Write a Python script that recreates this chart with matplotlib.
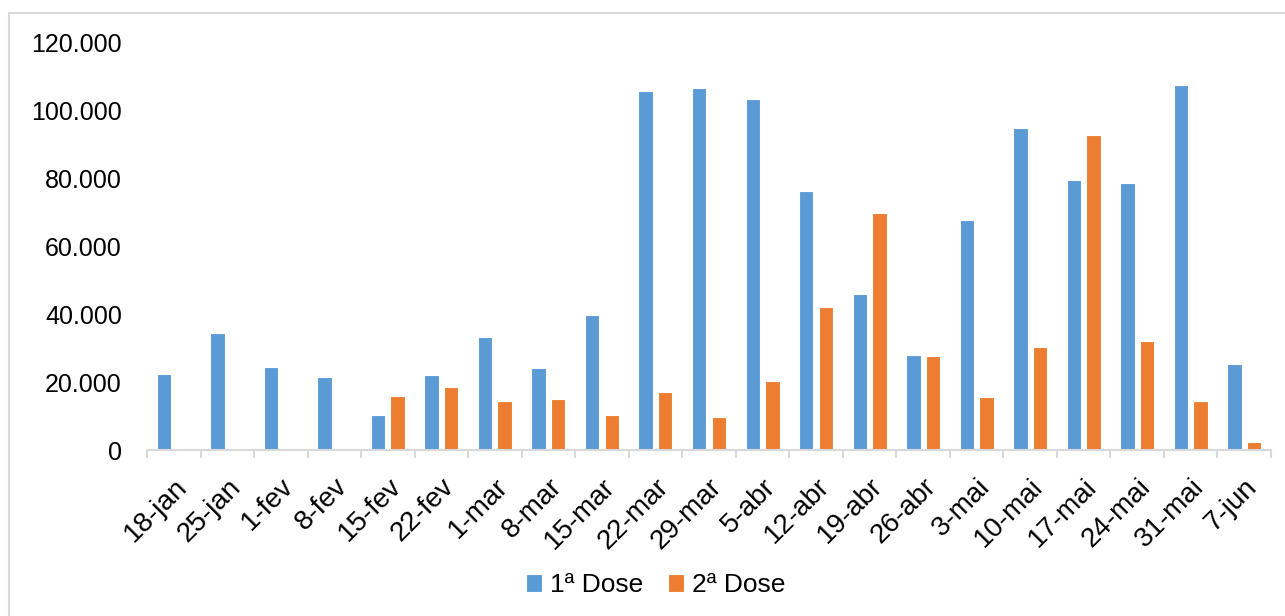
import matplotlib
matplotlib.use("Agg")
import matplotlib.pyplot as plt
import numpy as np
from matplotlib.ticker import FuncFormatter, FixedLocator
from matplotlib.patches import Rectangle

plt.rcParams['font.family'] = ['Liberation Sans', 'DejaVu Sans']

semanas = ["18-jan", "25-jan", "1-fev", "8-fev", "15-fev", "22-fev", "1-mar",
           "8-mar", "15-mar", "22-mar", "29-mar", "5-abr", "12-abr", "19-abr",
           "26-abr", "3-mai", "10-mai", "17-mai", "24-mai", "31-mai", "7-jun"]

dose1 = [22500, 34600, 24600, 21500, 10400, 22100, 33200, 24200, 39700,
         105800, 106800, 103500, 76400, 46000, 28000, 67800, 94800, 79500,
         78700, 107500, 25300]

dose2 = [0, 0, 0, 0, 15800, 18700, 14500, 15100, 10400, 17000, 9800, 20400,
         42200, 70000, 27800, 15500, 30300, 92900, 32000, 14300, 2400]

azul = "#5B9BD5"
laranja = "#ED7D31"
cinza = "#D9D9D9"

fig = plt.figure(figsize=(12.85, 6.16), dpi=100)
fig.patch.set_facecolor("white")

# outer chart frame
fig.patches.append(Rectangle((9 / 1285, -0.05), 1.1, (616 - 13) / 616 + 0.05,
                             transform=fig.transFigure, fill=False,
                             edgecolor=cinza, linewidth=1.5, zorder=0))

ax = fig.add_axes([147 / 1285, (616 - 450) / 616, (1271 - 147) / 1285, (450 - 43) / 616])

x = np.arange(len(semanas))
w = 0.27
off = 0.183
ax.bar(x - off, dose1, width=w, color=azul, edgecolor="white", linewidth=0.8,
       label="1ª Dose", zorder=2)
ax.bar(x + off, dose2, width=w, color=laranja, edgecolor="white", linewidth=0.8,
       label="2ª Dose", zorder=2)

ax.set_xlim(-0.5, len(semanas) - 0.5)
ax.set_ylim(0, 120000)
ax.set_yticks(np.arange(0, 120001, 20000))
ax.yaxis.set_major_formatter(FuncFormatter(lambda v, p: f"{int(v):,}".replace(",", ".")))

for s in ["top", "right", "left"]:
    ax.spines[s].set_visible(False)
ax.spines["bottom"].set_color(cinza)
ax.spines["bottom"].set_linewidth(1.5)

ax.tick_params(axis="y", length=0, labelsize=18, pad=18, labelcolor="black")
ax.set_xticks(x)
ax.set_xticklabels(semanas, rotation=45, ha="right", va="top",
                   rotation_mode="anchor", fontsize=20)
ax.tick_params(axis="x", which="major", length=0, pad=17)
ax.xaxis.set_minor_locator(FixedLocator(np.arange(-0.5, len(semanas), 1.0)))
ax.tick_params(axis="x", which="minor", length=6, width=1.5, color=cinza)

leg = fig.legend(loc="center", bbox_to_anchor=(656 / 1285, 1 - 585 / 616),
                 ncol=2, frameon=False, fontsize=19, handlelength=0.6,
                 handleheight=0.65, handletextpad=0.3, columnspacing=0.95)

fig.savefig("out.png", dpi=100, facecolor="white")
